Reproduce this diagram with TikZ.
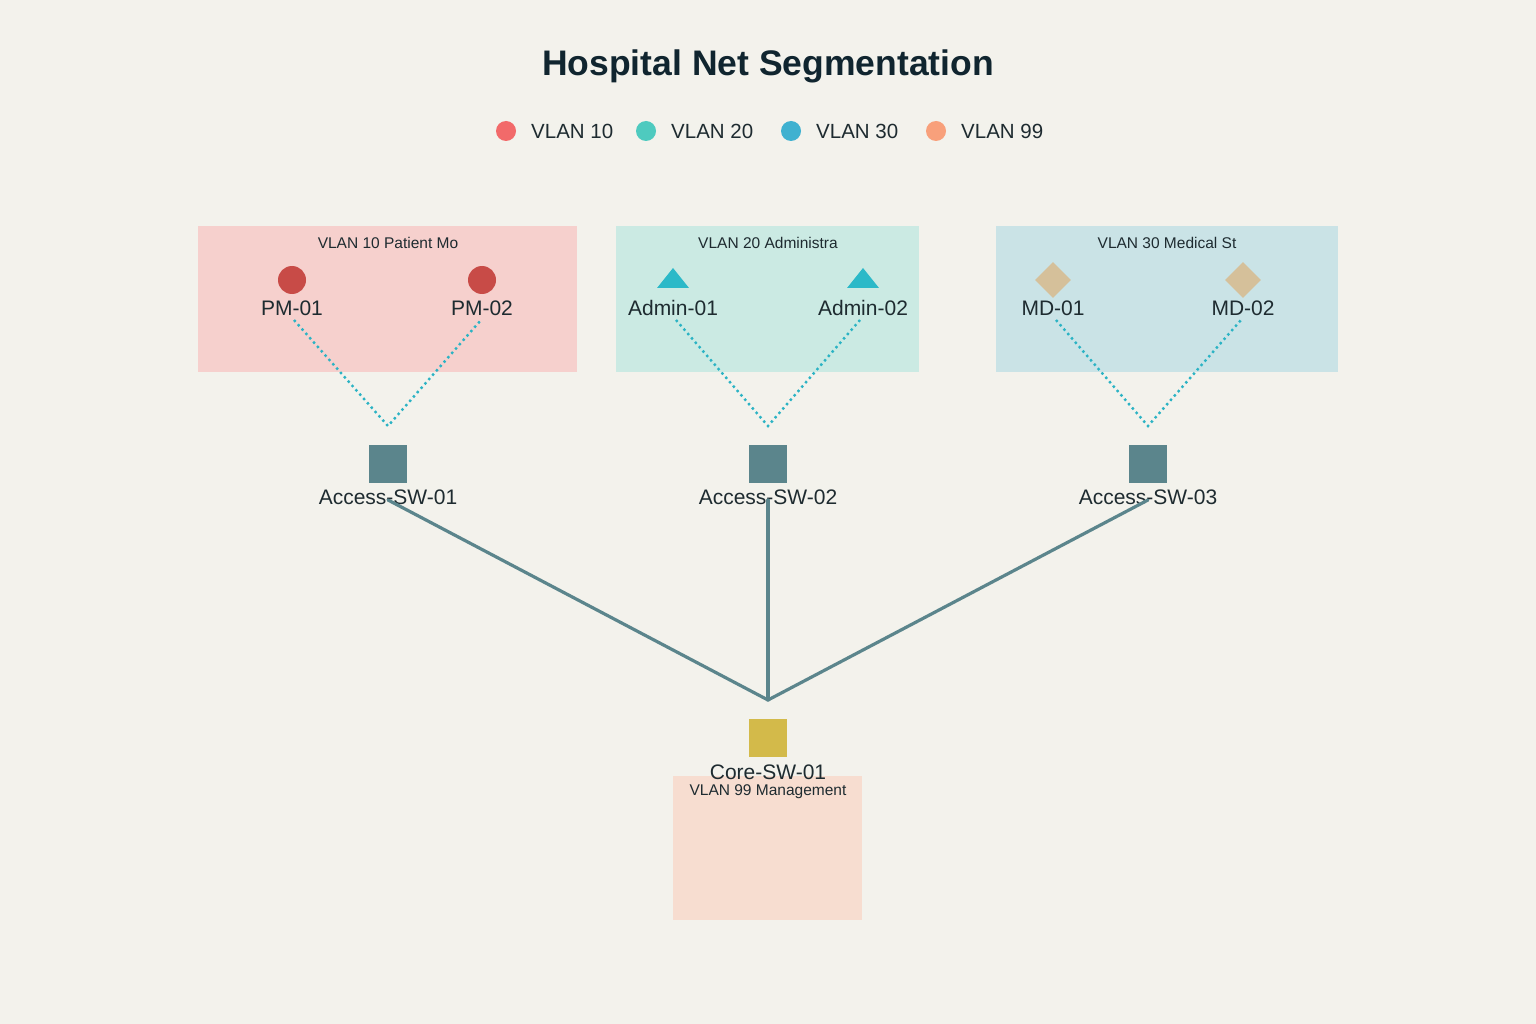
\documentclass[tikz,border=0pt]{standalone}
\usepackage{fontspec}
\setmainfont{Liberation Sans}
\usetikzlibrary{shapes.geometric}
\definecolor{bg}{HTML}{F3F2EC}
\definecolor{boxa}{HTML}{F6D0CD}
\definecolor{boxb}{HTML}{CBEAE3}
\definecolor{boxc}{HTML}{CAE3E6}
\definecolor{boxd}{HTML}{F7DDD0}
\definecolor{pmcol}{HTML}{C84B47}
\definecolor{admcol}{HTML}{2CB9C8}
\definecolor{mdcol}{HTML}{D5C09A}
\definecolor{swcol}{HTML}{5B858C}
\definecolor{corecol}{HTML}{D3BA4A}
\definecolor{dotcol}{HTML}{2BB3C4}
\definecolor{lga}{HTML}{F26A6A}
\definecolor{lgb}{HTML}{4ECABF}
\definecolor{lgc}{HTML}{3FB1D0}
\definecolor{lgd}{HTML}{F8A07B}
\definecolor{txt}{HTML}{1E2B30}
\definecolor{ttl}{HTML}{10252F}
\tikzset{
  zone/.style={draw=none, inner sep=0},
  zonelbl/.style={text=txt, font=\fontsize{15.5}{18}\selectfont, inner sep=0, anchor=center},
  devlbl/.style={text=txt, font=\fontsize{21}{25}\selectfont, inner sep=1, anchor=center},
  legdot/.style={circle, minimum size=20, inner sep=0, draw=none},
  legtxt/.style={text=txt, font=\fontsize{20.5}{24}\selectfont, inner sep=0, anchor=west},
  pmdot/.style={circle, fill=pmcol, minimum size=28, inner sep=0},
  mddia/.style={diamond, fill=mdcol, minimum width=36, minimum height=36, inner sep=0},
  swbox/.style={rectangle, fill=swcol, minimum size=38, inner sep=0},
  corebox/.style={rectangle, fill=corecol, minimum size=38, inner sep=0},
  dotlink/.style={draw=dotcol, line width=2.4, dash pattern=on 2.4 off 3.4},
  uplink/.style={draw=swcol, line width=3.2, line cap=round},
}
\begin{document}
\begin{tikzpicture}[x=1pt,y=-1pt]
\fill[bg] (0,0) rectangle (1536,1024);
\useasboundingbox (0,0) rectangle (1536,1024);

% title
\node[text=ttl, font=\bfseries\fontsize{35.5}{40}\selectfont, inner sep=0] (title) at (768,66) {Hospital Net Segmentation};

% legend
\node[legdot, fill=lga] (l1) at (506,131) {};
\node[legtxt] (l1t) at (531,131) {VLAN 10};
\node[legdot, fill=lgb] (l2) at (646,131) {};
\node[legtxt] (l2t) at (671,131) {VLAN 20};
\node[legdot, fill=lgc] (l3) at (791,131) {};
\node[legtxt] (l3t) at (816,131) {VLAN 30};
\node[legdot, fill=lgd] (l4) at (936,131) {};
\node[legtxt] (l4t) at (961,131) {VLAN 99};

% zones
\fill[boxa] (198,226) rectangle (577,372);
\fill[boxb] (616,226) rectangle (919,372);
\fill[boxc] (996,226) rectangle (1338,372);
\fill[boxd] (673,776) rectangle (862,920);
\node[zonelbl] (z1) at (388,243) {VLAN 10 Patient Mo};
\node[zonelbl] (z2) at (768,243) {VLAN 20 Administra};
\node[zonelbl] (z3) at (1167,243) {VLAN 30 Medical St};

% devices
\node[pmdot] (pm1) at (292,280) {};
\node[pmdot] (pm2) at (482,280) {};
\node[devlbl] (pm1l) at (292,308) {PM-01};
\node[devlbl] (pm2l) at (482,308) {PM-02};

\fill[admcol] (657,288) -- (673,268) -- (689,288) -- cycle;
\fill[admcol] (847,288) -- (863,268) -- (879,288) -- cycle;
\coordinate (ad1) at (673,280);
\coordinate (ad2) at (863,280);
\node[devlbl] (ad1l) at (673,308) {Admin-01};
\node[devlbl] (ad2l) at (863,308) {Admin-02};

\node[mddia] (md1) at (1053,280) {};
\node[mddia] (md2) at (1243,280) {};
\node[devlbl] (md1l) at (1053,308) {MD-01};
\node[devlbl] (md2l) at (1243,308) {MD-02};

% access switches
\node[swbox] (sw1) at (388,464) {};
\node[swbox] (sw2) at (768,464) {};
\node[swbox] (sw3) at (1148,464) {};
\node[devlbl] (sw1l) at (388,497) {Access-SW-01};
\node[devlbl] (sw2l) at (768,497) {Access-SW-02};
\node[devlbl] (sw3l) at (1148,497) {Access-SW-03};
\coordinate (sw1t) at (388,426);
\coordinate (sw2t) at (768,426);
\coordinate (sw3t) at (1148,426);
\coordinate (sw1c) at (388,500);
\coordinate (sw2c) at (768,500);
\coordinate (sw3c) at (1148,500);

% core
\node[corebox] (core) at (768,738) {};
\node[devlbl] (corel) at (768,772) {Core-SW-01};
\node[zonelbl] (z4) at (768,792) {VLAN 99 Management};
\coordinate (hub) at (768,700);

% dotted access links
\coordinate (pm1s) at (294,320);
\coordinate (pm2s) at (481,320);
\coordinate (ad1s) at (676,320);
\coordinate (ad2s) at (860,320);
\coordinate (md1s) at (1056,320);
\coordinate (md2s) at (1241,320);
\draw[dotlink] (pm1s) -- (sw1t) -- (pm2s);
\draw[dotlink] (ad1s) -- (sw2t) -- (ad2s);
\draw[dotlink] (md1s) -- (sw3t) -- (md2s);

% uplinks
\draw[uplink] (sw1c) -- (hub);
\draw[uplink] (sw2c) -- (hub);
\draw[uplink] (sw3c) -- (hub);
\end{tikzpicture}
\end{document}
